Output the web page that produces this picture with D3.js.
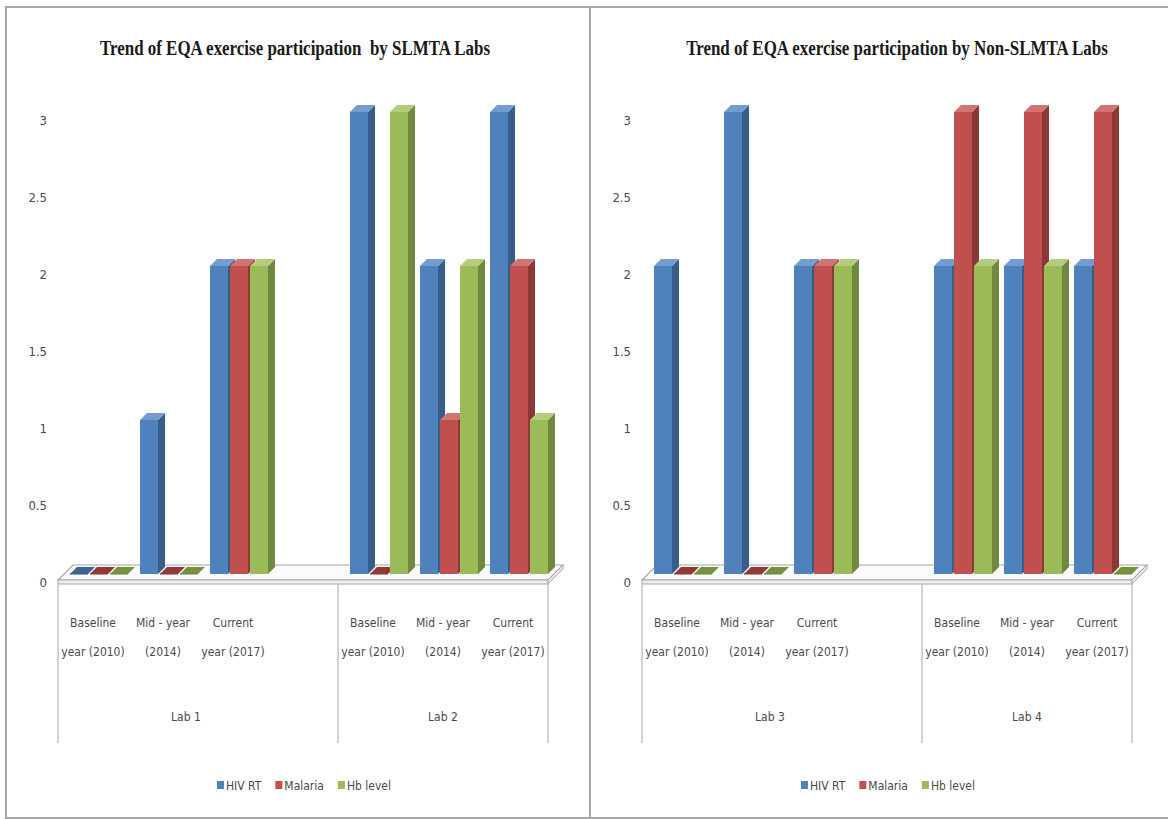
<!DOCTYPE html>
<html>
<head>
<meta charset="utf-8">
<script src="https://cdn.jsdelivr.net/npm/d3@7"></script>
<style>
  html, body { margin: 0; padding: 0; background: #ffffff; }
  svg { display: block; }
  .lbl { font-family: "Liberation Sans Narrow", "DejaVu Sans Condensed", "Open Sans", sans-serif; fill: #4a4a4a; }
  .ttl { font-family: "Liberation Serif", "DejaVu Serif", serif; font-weight: bold; fill: #1a1a1a; white-space: pre; }
</style>
</head>
<body>
<svg id="chart" width="1168" height="819"></svg>
<script>
// ---- data ----
const seriesNames = ["HIV RT", "Malaria", "Hb level"];
const categoryLines = [["Baseline", "year (2010)"], ["Mid - year", "(2014)"], ["Current", "year (2017)"]];
const yTicks = [0, 0.5, 1, 1.5, 2, 2.5, 3];

const slmtaTitle = "Trend of EQA exercise participation  by SLMTA Labs";
const slmtaLabs = ["Lab 1", "Lab 2"];
const slmtaHIV     = [0, 1, 2, 3, 2, 3];
const slmtaMalaria = [0, 0, 2, 0, 1, 2];
const slmtaHb      = [0, 0, 2, 3, 2, 1];

const nonTitle = "Trend of EQA exercise participation by Non-SLMTA Labs";
const nonLabs = ["Lab 3", "Lab 4"];
const nonHIV     = [2, 3, 2, 2, 2, 2];
const nonMalaria = [0, 0, 2, 3, 3, 3];
const nonHb      = [0, 0, 2, 2, 2, 0];

// ---- styles ----
const faceColors = {
  "HIV RT":   { front: "#4f81bd", side: "#385d8a", top: "#739cd0", flat: "#3d6696" },
  "Malaria":  { front: "#c0504d", side: "#8c3836", top: "#d27572", flat: "#953735" },
  "Hb level": { front: "#9bbb59", side: "#71893f", top: "#b3cd7f", flat: "#76923c" }
};

const svg = d3.select("#chart");

// frame
svg.append("path").attr("d", "M1168,7 L6,7 L6,818 L1168,818")
  .attr("fill", "none").attr("stroke", "#a6a6a6").attr("stroke-width", 2);
svg.append("line").attr("x1", 590).attr("x2", 590).attr("y1", 7).attr("y2", 819)
  .attr("stroke", "#a6a6a6").attr("stroke-width", 2);

function drawPanel(L, title, labs, hiv, mal, hb, titleCx) {
  const g = svg.append("g");
  const valuesBySeries = [hiv, mal, hb];

  // slots: 3 categories, gap, 3 categories
  const slotOf = (gi, ci) => gi * 4 + ci;
  const x = d3.scaleBand().domain(d3.range(7)).range([L + 52, L + 542]).padding(0);
  const inner = d3.scaleBand().domain(seriesNames).range([12, 70]).paddingInner(0.1);
  const y = d3.scaleLinear().domain([0, 3]).range([580, 118]);

  const fd = 15;   // floor depth offset
  const bo = 6;    // bar front plane offset
  const bd = 7;    // bar depth

  // title (condensed serif)
  g.append("text").attr("class", "ttl")
    .attr("transform", `translate(${L + titleCx},55) scale(0.77,1)`)
    .attr("text-anchor", "middle")
    .attr("font-size", 22).text(title);

  // y tick labels
  g.selectAll(".ytick").data(yTicks).join("text")
    .attr("class", "lbl").attr("x", L + 41).attr("y", d => y(d) + 3)
    .attr("text-anchor", "end").attr("dominant-baseline", "middle")
    .attr("font-size", 13).text(d => d3.format("")(d));

  // floor
  const x0 = x(0), x1 = x(6) + x.bandwidth(), y0 = y(0);
  g.append("path")
    .attr("d", `M${x0},${y0} L${x0 + fd},${y0 - fd} L${x1 + fd},${y0 - fd} L${x1},${y0} Z`)
    .attr("fill", "#fbfbfb").attr("stroke", "#a6a6a6").attr("stroke-width", 1.2);
  g.append("path")
    .attr("d", `M${x0},${y0} L${x1},${y0} L${x1},${y0 + 4} L${x0},${y0 + 4} Z`)
    .attr("fill", "#f0f0f0").attr("stroke", "#a6a6a6").attr("stroke-width", 1);
  g.append("path")
    .attr("d", `M${x1},${y0} L${x1 + fd},${y0 - fd} L${x1 + fd},${y0 - fd + 4} L${x1},${y0 + 4} Z`)
    .attr("fill", "#e6e6e6").attr("stroke", "#a6a6a6").attr("stroke-width", 1);

  // bars (left to right so next front face covers previous side)
  const bars = [];
  labs.forEach((lab, gi) => {
    categoryLines.forEach((cl, ci) => {
      seriesNames.forEach((s, si) => {
        bars.push({ slot: slotOf(gi, ci), s, v: valuesBySeries[si][gi * 3 + ci] });
      });
    });
  });
  const w = inner.bandwidth();
  bars.forEach(b => {
    const fx = x(b.slot) + inner(b.s);
    const yb = y(0) - bo;
    const col = faceColors[b.s];
    if (b.v === 0) {
      g.append("path")
        .attr("d", `M${fx},${yb} L${fx + bd},${yb - bd} L${fx + w + bd},${yb - bd} L${fx + w},${yb} Z`)
        .attr("fill", col.flat);
      g.append("rect").attr("x", fx).attr("y", yb - 1).attr("width", w).attr("height", 1.5)
        .attr("fill", col.side);
      return;
    }
    const yt = y(b.v) - bo;
    g.append("path")
      .attr("d", `M${fx + w},${yt} L${fx + w + bd},${yt - bd} L${fx + w + bd},${yb - bd} L${fx + w},${yb} Z`)
      .attr("fill", col.side);
    g.append("path")
      .attr("d", `M${fx},${yt} L${fx + bd},${yt - bd} L${fx + w + bd},${yt - bd} L${fx + w},${yt} Z`)
      .attr("fill", col.top);
    g.append("rect").attr("x", fx).attr("y", yt).attr("width", w).attr("height", yb - yt)
      .attr("fill", col.front);
  });

  // category axis lines
  const bounds = [x(0), x(4), x(6) + x.bandwidth()];
  g.selectAll(".vline").data(bounds).join("line")
    .attr("x1", d => d).attr("x2", d => d).attr("y1", y0 + 4).attr("y2", 743)
    .attr("stroke", "#c4c4c4").attr("stroke-width", 1.5);

  // category labels
  labs.forEach((lab, gi) => {
    categoryLines.forEach((cl, ci) => {
      const cx = x(slotOf(gi, ci)) + x.bandwidth() / 2;
      const tx = g.append("text").attr("class", "lbl").attr("text-anchor", "middle").attr("font-size", 12);
      tx.append("tspan").attr("x", cx).attr("y", 627).text(cl[0]);
      tx.append("tspan").attr("x", cx).attr("y", 656).text(cl[1]);
    });
    const spanStart = x(slotOf(gi, 0));
    const spanEnd = gi === 0 ? x(4) : x(6) + x.bandwidth();
    g.append("text").attr("class", "lbl").attr("text-anchor", "middle").attr("font-size", 12)
      .attr("x", (spanStart + spanEnd) / 2 - (gi === 0 ? 12 : 0)).attr("y", 721).text(lab);
  });

  // legend
  const lg = g.append("g");
  let cx = 0;
  seriesNames.forEach(s => {
    const it = lg.append("g").attr("transform", `translate(${cx},0)`);
    it.append("rect").attr("x", 0).attr("y", -4).attr("width", 7).attr("height", 8).attr("fill", faceColors[s].front);
    const tt = it.append("text").attr("class", "lbl").attr("x", 9).attr("y", 4.5).attr("font-size", 12).text(s);
    cx += 9 + tt.node().getComputedTextLength() + 14;
  });
  const totalW = cx - 14;
  lg.attr("transform", `translate(${L + 298 - totalW / 2},785)`);
}

drawPanel(6, slmtaTitle, slmtaLabs, slmtaHIV, slmtaMalaria, slmtaHb, 289);
drawPanel(590, nonTitle, nonLabs, nonHIV, nonMalaria, nonHb, 307);
</script>
</body>
</html>
